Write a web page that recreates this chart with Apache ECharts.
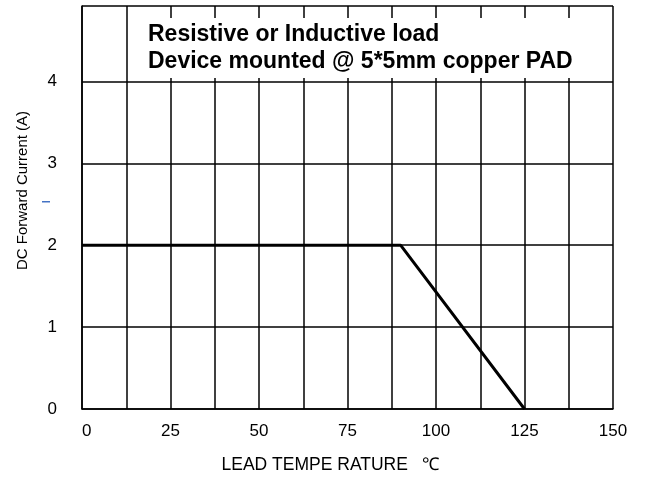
<!DOCTYPE html>
<html>
<head>
<meta charset="utf-8">
<style>
  html, body { margin: 0; padding: 0; background: #fff; }
  #chart { width: 645px; height: 484px; }
</style>
<script src="https://cdn.jsdelivr.net/npm/echarts@6/dist/echarts.min.js"></script>
</head>
<body>
<div id="chart"></div>
<script>
// derating curve
const leadTemp = [0, 90, 125];
const dcCurrent = [2, 2, 0];
const xTicks = [0, 25, 50, 75, 100, 125, 150];
const yTicks = [0, 1, 2, 3, 4];
const noteLines = ['Resistive or Inductive load', 'Device mounted @ 5*5mm copper PAD'];

const chart = echarts.init(document.getElementById('chart'));
const gridLine = { show: true, lineStyle: { color: '#000', width: 1.5 } };

chart.setOption({
  animation: false,
  backgroundColor: '#fff',
  grid: { left: 82, right: 32, top: 6, bottom: 75 },
  xAxis: {
    type: 'value',
    min: 0,
    max: 150,
    interval: 12.5,
    name: 'LEAD TEMPE RATURE   \u2103',
    nameLocation: 'middle',
    nameGap: 47,
    nameTextStyle: { color: '#000', fontSize: 17.5, fontFamily: 'Liberation Sans', padding: [0, 34, 0, 0] },
    axisLine: { lineStyle: { color: '#000', width: 1.5 } },
    axisTick: { show: false },
    splitLine: gridLine,
    axisLabel: {
      color: '#000', fontSize: 17, fontFamily: 'Liberation Sans', margin: 14,
      alignMinLabel: 'left',
      formatter: v => (xTicks.indexOf(v) >= 0 ? String(v) : '')
    }
  },
  yAxis: {
    type: 'value',
    min: 0,
    max: 4.92,
    interval: 1,
    name: 'DC Forward Current (A)',
    nameLocation: 'middle',
    nameGap: 52,
    nameTextStyle: { color: '#000', fontSize: 15, fontFamily: 'Liberation Sans', padding: [0, 0, 0, 34] },
    axisLine: { show: true, lineStyle: { color: '#000', width: 1.5 } },
    axisTick: { show: false },
    splitLine: gridLine,
    axisLabel: {
      color: '#000', fontSize: 17, fontFamily: 'Liberation Sans', margin: 25,
      showMaxLabel: false,
      formatter: v => (yTicks.indexOf(v) >= 0 ? String(v) : '')
    }
  },
  series: [{
    type: 'line',
    data: leadTemp.map((t, i) => [t, dcCurrent[i]]),
    symbol: 'none',
    lineStyle: { color: '#000', width: 3 },
    z: 5
  }],
  graphic: [
    { type: 'rect', z: 100, shape: { x: 131, y: 18, width: 481, height: 60 }, style: { fill: '#fff' } },
    { type: 'text', z: 101, left: 148, top: 23, style: { text: noteLines[0], fill: '#000', font: 'bold 23px "Liberation Sans"' } },
    { type: 'text', z: 101, left: 148, top: 50, style: { text: noteLines[1], fill: '#000', font: 'bold 23px "Liberation Sans"' } },
    { type: 'rect', z: 100, shape: { x: 42, y: 201, width: 8, height: 1.5 }, style: { fill: '#4472c4' } }
  ]
});
</script>
</body>
</html>
